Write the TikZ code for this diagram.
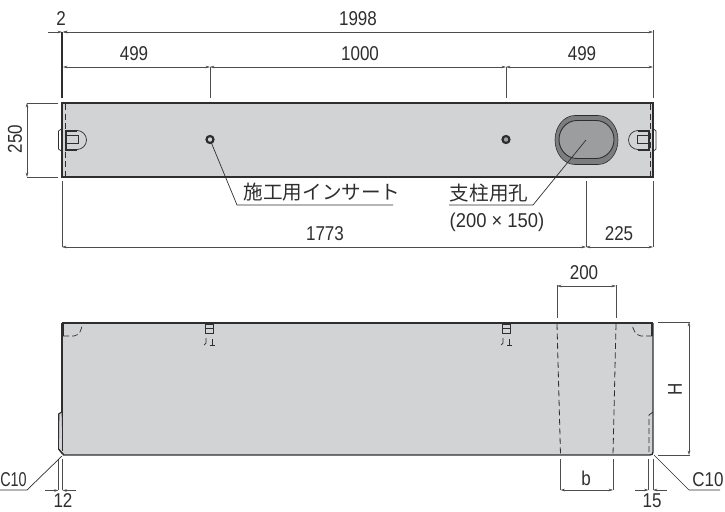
\documentclass[tikz,border=0pt]{standalone}
\usepackage{fontspec}
\usepackage{graphicx}
\setmainfont{Liberation Sans}
\newfontfamily\jpfont{Noto Sans CJK JP}
\usetikzlibrary{arrows.meta}
\definecolor{body}{HTML}{D2D3D5}
\definecolor{ink}{HTML}{2E2E2E}
\definecolor{holefill}{HTML}{9C9D9F}
\definecolor{ringfill}{HTML}{7C7D7F}
\newcommand{\nar}[1]{\scalebox{.85}[1]{#1}}
\tikzset{
  dimtext/.style={font=\fontsize{20}{22}\selectfont,inner sep=0pt,text=ink},
  jptext/.style={font=\fontsize{19.6}{22}\selectfont\jpfont,inner sep=0pt,text=ink},
  ext/.style={line width=.7pt,draw=ink!85},
  dimline/.style={line width=.6pt,draw=ink!85,{Stealth[length=4.5pt,width=2.6pt]}-{Stealth[length=4.5pt,width=2.6pt]}},
  dimend/.style={line width=.6pt,draw=ink!85,-{Stealth[length=4.5pt,width=2.6pt]}},
  leader/.style={line width=.7pt,draw=ink},
  outline/.style={line width=1.8pt,draw=ink,fill=body,line join=miter},
  hidden/.style={line width=.8pt,draw=ink,dash pattern=on 6pt off 3.5pt},
  fine/.style={line width=.7pt,draw=ink},
  heavy/.style={line width=2pt,draw=ink},
}
\begin{document}
\begin{tikzpicture}[x=1pt,y=-1pt]
\useasboundingbox (0,0) rectangle (725,511);
% ---- key coordinates, top view
\coordinate (d2a) at (48,32); \coordinate (d2b) at (62,32);
\coordinate (d2c) at (63,32); \coordinate (d2d) at (76,32);
\coordinate (ta) at (653,32);
\coordinate (m0) at (63,67); \coordinate (m1) at (210,67);
\coordinate (m2) at (506,67); \coordinate (m3) at (653,67);
\coordinate (lo0) at (62,247); \coordinate (lo1) at (586,247); \coordinate (lo2) at (653,247);
% extension lines, top view
\draw[line width=1.1pt,draw=ink] (62,32) -- (62,98);
\draw[ext] (653,30) -- (653,98);
\draw[ext] (m1) -- (210,98);
\draw[ext] (m2) -- (506,98);
\draw[ext] (58,103) -- (27,103);
\draw[ext] (58,177) -- (27,177);
\draw[ext] (62,181) -- (lo0);
\draw[ext] (586,181) -- (lo1);
\draw[ext] (653,181) -- (lo2);
% top view body
\draw[outline] (62,103) rectangle (653,177);
% dimension lines, top view
\draw[dimend] (d2a) -- (d2b);
\draw[dimend] (d2d) -- (d2c);
\draw[dimline] (d2c) -- (ta);
\draw[dimline] (m0) -- (m1);
\draw[dimline] (m1) -- (m2);
\draw[dimline] (m2) -- (m3);
\draw[dimline] (27,103) -- (27,177);
\draw[dimline] (lo0) -- (lo1);
\draw[dimline] (lo1) -- (lo2);
% inserts and hole
\draw[line width=2.2pt,draw=ink,fill=body] (210,139.5) circle (3.5);
\draw[line width=2.2pt,draw=ink,fill=body!70!ink] (506,139.5) circle (3.5);
\draw[line width=.6pt,draw=ink,fill=ringfill] (575,115.5) -- (598,115.5) arc[start angle=-90,end angle=90,x radius=20,y radius=24.5] -- (575,164.5) arc[start angle=90,end angle=270,x radius=20,y radius=24.5] -- cycle;
\draw[line width=.9pt,draw=ink,fill=holefill] (577,120.5) -- (596,120.5) arc[start angle=-90,end angle=90,x radius=18,y radius=19] -- (577,158.5) arc[start angle=90,end angle=270,x radius=18,y radius=19] -- cycle;
% end clips, left
\draw[hidden] (65,104) -- (65,176);
\draw[fine] (62,128.5) -- (58.5,131) -- (58.5,149) -- (62,151.5);
\draw[heavy] (65,130.5) -- (77,130.5);
\draw[heavy] (65,149.5) -- (77,149.5);
\draw[fine] (77,130.5) arc[start angle=-90,end angle=90,radius=9.5];
\draw[fine] (67,135.5) -- (78,135.5) -- (78,143) -- (67,143);
\draw[line width=1.2pt,draw=ink] (66,131) -- (66,149);
% end clips, right
\draw[hidden] (650,104) -- (650,176);
\draw[fine] (653,128.5) -- (656,131) -- (656,149) -- (653,151.5);
\draw[heavy] (650,130.5) -- (638,130.5);
\draw[heavy] (650,149.5) -- (638,149.5);
\draw[fine] (638,130.5) arc[start angle=-90,end angle=-270,radius=9.5];
\draw[fine] (648,135.5) -- (637,135.5) -- (637,143) -- (648,143);
\draw[line width=1.2pt,draw=ink] (649,131) -- (649,149);
% leaders, top view
\coordinate (a1) at (211,142); \coordinate (a2) at (237,205); \coordinate (a3) at (393,205);
\coordinate (b1) at (586,140); \coordinate (b2) at (533,205); \coordinate (b3) at (449,205);
\draw[leader] (a1) -- (a2) -- (a3);
\draw[leader] (b1) -- (b2) -- (b3);
% texts, top view
\node[dimtext] (t2) at (61,19) {\nar{2}};
\node[dimtext] (t1998) at (358,19) {\nar{1998}};
\node[dimtext] (t499a) at (134,54) {\nar{499}};
\node[dimtext] (t1000) at (360,54) {\nar{1000}};
\node[dimtext] (t499b) at (582,54) {\nar{499}};
\node[dimtext,rotate=90] (t250) at (15,139) {\nar{250}};
\node[dimtext] (t1773) at (325,234) {\nar{1773}};
\node[dimtext] (t225) at (619,234) {\nar{225}};
\node[jptext] (tinsert) at (322,192) {施工用インサート};
\node[jptext] (thole) at (489,193) {支柱用孔};
\node[dimtext] (tsize) at (497,222) {\scalebox{.92}[1]{(200 × 150)}};
% ---- side view
\draw[ext] (557,285) -- (557,318);
\draw[ext] (616,285) -- (616,318);
\draw[ext] (658,322) -- (690,322);
\draw[ext] (658,455) -- (690,455);
\draw[fine,fill=body] (62,412) -- (59,413.5) -- (58.5,449) -- (63,455) -- (62,412);
\fill[body] (62,323) rectangle (653,455);
\draw[heavy] (653,323) -- (62,323);
\draw[line width=1.1pt,draw=ink] (62,323) -- (62,412);
\draw[line width=.6pt,draw=ink] (62.5,412) -- (62.5,451);
\draw[line width=1.3pt,draw=ink] (58.5,449) -- (64,455) -- (650,455) .. controls (652,455) and (653,454) .. (653,452) -- (653,323);
\draw[line width=.8pt,draw=ink] (58.5,449) -- (58.5,414) -- (62,412);
% corner marks
\draw[line width=1.4pt,draw=ink] (63,323) -- (63,336);
\draw[line width=.7pt,draw=ink,dash pattern=on 6pt off 3pt] (63,336) -- (74,336) .. controls (79,335) and (82,331) .. (82,323);
\draw[line width=1.4pt,draw=ink] (652,323) -- (652,336);
\draw[line width=.7pt,draw=ink,dash pattern=on 6pt off 3pt] (652,336) -- (641,336) .. controls (636,335) and (633,331) .. (632,323);
\draw[line width=.8pt,draw=ink,dash pattern=on 6pt off 3pt] (649,452) -- (649,415) -- (653,412);
% side inserts
\foreach \xx in {209,506}{
  \draw[line width=1pt,draw=ink] (\xx-4,324) rectangle (\xx+4,333);
  \draw[line width=1pt,draw=ink] (\xx-4,328) -- (\xx+4,328);
  \draw[fine] (\xx-5,345) -- (\xx-3,343) -- (\xx-3,338);
  \draw[fine] (\xx+1,345) -- (\xx+6,345);
  \draw[fine] (\xx+3,345) -- (\xx+3,339);
}
% hole lines
\draw[hidden] (557,324) -- (560.5,455);
\draw[hidden] (616,324) -- (613,455);
% side dimensions
\draw[ext] (560.5,459) -- (560.5,490);
\draw[ext] (613,459) -- (613,490);
\draw[dimline] (557,286) -- (616,286);
\draw[dimline] (560.5,490) -- (613,490);
\draw[dimline] (689,322) -- (689,455);
% 12
\draw[ext] (58.5,459) -- (58.5,490);
\draw[ext] (62.5,459) -- (62.5,490);
\draw[dimend] (45,490.5) -- (58.5,490.5);
\draw[dimend] (76,490.5) -- (62.5,490.5);
% 15
\draw[ext] (648.5,459) -- (648.5,490);
\draw[ext] (653,459) -- (653,490);
\draw[dimend] (635,490) -- (648.5,490);
\draw[dimend] (667,490) -- (653,490);
% C10 leaders
\coordinate (c1) at (62,456); \coordinate (c2) at (27,490); \coordinate (c3) at (0,490);
\coordinate (e1) at (654,455); \coordinate (e2) at (689,490); \coordinate (e3) at (720,490);
\draw[leader] (c1) -- (c2) -- (c3);
\draw[leader] (e1) -- (e2) -- (e3);
% texts, side view
\node[dimtext] (t200) at (584,273) {\nar{200}};
\node[dimtext] (tb) at (586,478) {\nar{b}};
\node[dimtext,rotate=90] (tH) at (675,389) {\nar{H}};
\node[dimtext] (tc10a) at (13.5,480) {\scalebox{.72}[1]{C10}};
\node[dimtext] (tc10b) at (708,480) {\nar{C10}};
\node[dimtext] (t12) at (63,501) {\nar{12}};
\node[dimtext] (t15) at (652,501) {\nar{15}};
\end{tikzpicture}
\end{document}
